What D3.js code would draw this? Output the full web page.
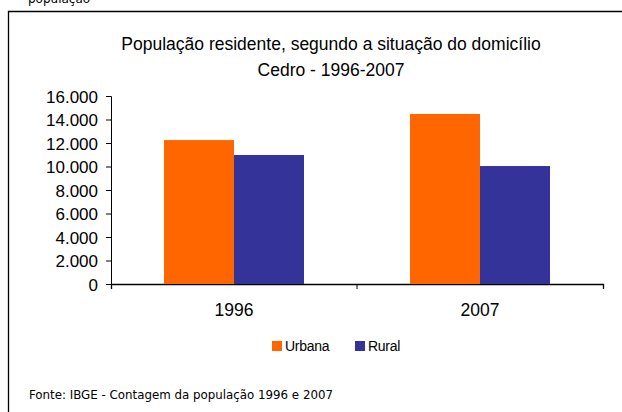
<!DOCTYPE html>
<html>
<head>
<meta charset="utf-8">
<script src="https://cdn.jsdelivr.net/npm/d3@7"></script>
<style>
  body { margin: 0; background: #fff; }
  svg { display: block; font-family: "Liberation Sans", Arial, sans-serif; }
</style>
</head>
<body>
<svg width="622" height="412"></svg>
<script>
var years = ["1996", "2007"];
var keys = ["Urbana", "Rural"];
var urbana = [12250, 14470];
var rural = [10980, 10040];
var yTicks = [0, 2000, 4000, 6000, 8000, 10000, 12000, 14000, 16000];

var colors = {Urbana: "#ff6600", Rural: "#333399"};

var data = years.map(function(y, i) { return {year: y, Urbana: urbana[i], Rural: rural[i]}; });

var svg = d3.select("svg"),
    margin = {top: 96, right: 19, bottom: 128, left: 111},
    width = svg.attr("width") - margin.left - margin.right,
    height = svg.attr("height") - margin.top - margin.bottom,
    g = svg.append("g").attr("transform", "translate(" + margin.left + "," + margin.top + ")");

// caption above the box, cut off by the picture's top edge
svg.append("text")
    .attr("x", 28).attr("y", 3)
    .style("font-family", "'DejaVu Sans', sans-serif")
    .style("font-size", "12px")
    .text("população");

// outer frame (right and bottom run off the picture)
svg.append("path")
    .attr("d", "M8.5,412 L8.5,11.5 L622,11.5")
    .attr("fill", "none")
    .attr("stroke", "#000")
    .attr("stroke-width", 1.3);

svg.append("text")
    .attr("x", 331).attr("y", 50)
    .attr("text-anchor", "middle")
    .style("font-size", "17.5px")
    .text("População residente, segundo a situação do domicílio");

svg.append("text")
    .attr("x", 331).attr("y", 76)
    .attr("text-anchor", "middle")
    .style("font-size", "17.5px")
    .text("Cedro - 1996-2007");

var x0 = d3.scaleBand()
    .domain(years)
    .range([0, width]);

var x1 = d3.scaleBand()
    .domain(keys)
    .range([0, 140]);

var y = d3.scaleLinear()
    .domain([0, 16000])
    .range([height, 0]);

var fmt = function(d) { return d3.format(",")(d).replace(/,/g, "."); };

var yAxis = g.append("g")
    .call(d3.axisLeft(y).tickValues(yTicks).tickFormat(fmt).tickSize(5).tickPadding(8));
yAxis.select(".domain").attr("d", "M-5,0.5H0.5V" + height);
yAxis.selectAll("text")
    .attr("font-size", null)
    .style("font-size", "17px")
    .style("font-family", "'Liberation Sans', Arial, sans-serif")
    .attr("fill", "#000").attr("dy", "0.36em");

var xAxis = g.append("g")
    .attr("transform", "translate(0," + height + ")")
    .call(d3.axisBottom(x0).tickValues([]).tickSizeOuter(5));
xAxis.select(".domain").attr("stroke-width", 1.3);
// category separator tick
xAxis.selectAll(".sep")
    .data([x0.step()])
    .enter().append("line")
    .attr("x1", function(d) { return d; }).attr("x2", function(d) { return d; })
    .attr("y1", 0).attr("y2", 5)
    .attr("stroke", "#000");

xAxis.selectAll(".lbl")
    .data(years)
    .enter().append("text")
    .attr("x", function(d) { return x0(d) + x0.bandwidth() / 2; })
    .attr("y", 32)
    .attr("text-anchor", "middle")
    .attr("fill", "#000")
    .style("font-size", "17.5px")
    .style("font-family", "'Liberation Sans', Arial, sans-serif")
    .text(function(d) { return d; });

g.append("g")
  .selectAll("g")
  .data(data)
  .enter().append("g")
    .attr("transform", function(d) { return "translate(" + (x0(d.year) + (x0.bandwidth() - 140) / 2) + ",0)"; })
  .selectAll("rect")
  .data(function(d) { return keys.map(function(k) { return {key: k, value: d[k]}; }); })
  .enter().append("rect")
    .attr("x", function(d) { return x1(d.key); })
    .attr("y", function(d) { return y(d.value); })
    .attr("width", x1.bandwidth())
    .attr("height", function(d) { return height - y(d.value); })
    .attr("fill", function(d) { return colors[d.key]; });

var legend = svg.append("g")
  .selectAll("g")
  .data(keys)
  .enter().append("g")
    .attr("transform", function(d, i) { return "translate(" + (272 + i * 83) + ",341)"; });

legend.append("rect")
    .attr("width", 10)
    .attr("height", 10)
    .attr("fill", function(d) { return colors[d]; });

legend.append("text")
    .attr("x", 13)
    .attr("y", 10)
    .style("font-size", "14px")
    .style("letter-spacing", "-0.3px")
    .text(function(d) { return d; });

svg.append("text")
    .attr("x", 29).attr("y", 399)
    .attr("textLength", 304)
    .attr("lengthAdjust", "spacingAndGlyphs")
    .style("font-family", "'DejaVu Sans Condensed', 'DejaVu Sans', sans-serif")
    .style("font-size", "12px")
    .text("Fonte: IBGE - Contagem da população 1996 e 2007");
</script>
</body>
</html>
